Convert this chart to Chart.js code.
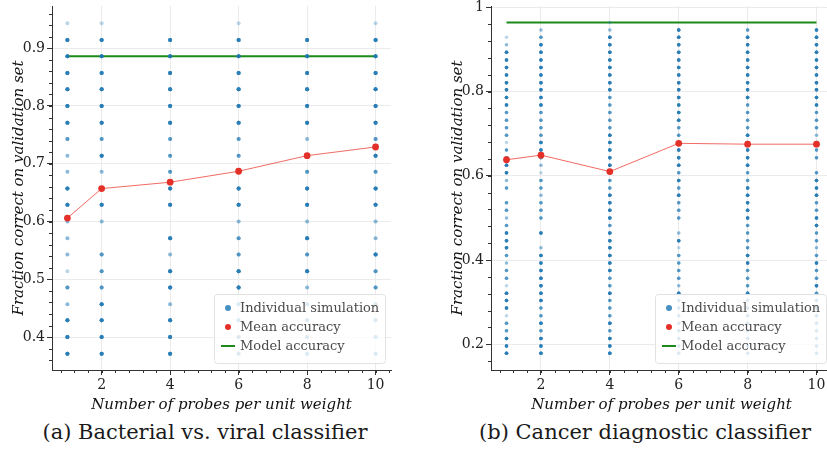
<!DOCTYPE html>
<html>
<head>
<meta charset="utf-8">
<script src="https://cdn.jsdelivr.net/npm/chart.js@4.4.0/dist/chart.umd.min.js"></script>
<style>
    html, body { margin: 0; padding: 0; background: #fff; width: 827px; height: 457px; overflow: hidden; }
    .panel { position: absolute; top: 0; }
    .caption {
        position: absolute; top: 421px; line-height: 22px;
        font-family: 'DejaVu Serif', serif; font-size: 21px; color: #1a1a1a;
        white-space: nowrap; transform: translateX(-50%);
    }
</style>
</head>
<body>
<canvas id="chartA" class="panel" width="400" height="420" style="left:0"></canvas>
<canvas id="chartB" class="panel" width="402" height="420" style="left:439px"></canvas>
<div class="caption" style="left:205px">(a) Bacterial vs. viral classifier</div>
<div class="caption" style="left:645px">(b) Cancer diagnostic classifier</div>

<script>
// =========================================================
// DATOS
// =========================================================
const probes = [1, 2, 4, 6, 8, 10];
const xTicks = [2, 4, 6, 8, 10];

// (a) bacterial vs. viral: niveles posibles de acierto (de abajo a arriba)
const bvLevels = [0.371, 0.400, 0.429, 0.457, 0.486, 0.514, 0.543, 0.571, 0.600, 0.629, 0.657,
                  0.686, 0.714, 0.743, 0.771, 0.800, 0.829, 0.857, 0.886, 0.914, 0.943];
// simulaciones que caen en cada nivel, una fila por columna de probes
const bvCounts = [
    [8,8,8,2,4,1,2,2,2,8,8,2,2,4,8,8,8,8,8,8,1],
    [8,8,8,8,4,4,4,0,2,8,8,2,8,4,8,8,8,8,8,8,1],
    [8,8,8,2,8,8,2,8,0,8,8,4,4,4,8,8,8,8,8,8,0],
    [4,4,4,4,8,8,4,4,2,8,8,4,4,4,8,8,8,8,8,8,1],
    [4,4,4,4,2,8,4,8,2,8,8,4,8,2,8,8,8,8,8,8,0],
    [4,4,4,4,4,4,8,2,2,8,8,4,8,4,8,8,8,8,8,8,1],
];
const bvMean  = [0.606, 0.657, 0.668, 0.687, 0.714, 0.729];
const bvModel = 0.886;
const bvYTicks = [0.4, 0.5, 0.6, 0.7, 0.8, 0.9];

// (b) cancer diagnostic
const cdLevels = [0.179, 0.196, 0.214, 0.232, 0.250, 0.268, 0.286, 0.304, 0.321, 0.339,
                  0.357, 0.375, 0.393, 0.411, 0.429, 0.446, 0.464, 0.482, 0.500, 0.518,
                  0.536, 0.554, 0.571, 0.589, 0.607, 0.625, 0.643, 0.661, 0.679, 0.696,
                  0.714, 0.732, 0.750, 0.768, 0.786, 0.804, 0.821, 0.839, 0.857, 0.875,
                  0.893, 0.911, 0.929, 0.946, 0.964];
const cdCounts = [
    [8,8,8,4,4,1,8,8,8,1, 4,4,2,4,8,8,8,4,2,4, 4,0,4,2,8,8,4,4,1,4, 4,4,4,8,8,8,8,8,8,8, 8,2,1,0,0],
    [8,8,8,4,8,4,4,8,8,8, 8,8,8,8,2,0,8,0,4,4, 4,2,4,4,1,2,4,8,8,4, 4,4,4,8,8,8,8,8,8,8, 8,8,4,2,0],
    [8,8,8,4,8,4,4,4,8,4, 4,8,8,8,8,8,8,4,8,8, 8,8,4,4,4,8,8,8,8,8, 4,4,4,4,4,8,8,8,8,8, 8,8,8,2,1],
    [4,4,4,4,4,4,4,4,8,2, 4,4,4,4,1,8,2,0,4,4, 4,8,4,8,4,8,8,8,4,4, 4,8,8,8,8,8,8,8,8,8, 8,8,8,8,0],
    [4,4,4,4,4,4,4,4,8,4, 4,4,8,8,4,4,4,4,8,8, 8,8,8,4,4,8,8,8,4,8, 4,4,4,4,8,8,8,8,8,8, 8,8,8,4,0],
    [4,4,4,4,4,4,4,4,4,8, 4,4,8,4,2,4,4,8,8,4, 4,8,8,8,4,0,4,4,4,2, 4,4,4,8,8,8,8,8,8,8, 8,8,8,8,0],
];
const cdMean  = [0.638, 0.649, 0.610, 0.677, 0.675, 0.675];
const cdModel = 0.964;
const cdYTicks = [0.2, 0.4, 0.6, 0.8, 1];

const legendOrder = ['Individual simulation', 'Mean accuracy', 'Model accuracy'];

// =========================================================
// PLUGINS
// =========================================================
const minorTicks = {
    id: 'minorTicks',
    afterDraw(chart, args, opts) {
        const { ctx } = chart;
        const xs = chart.scales.x, ys = chart.scales.y;
        ctx.save();
        ctx.strokeStyle = '#333';
        ctx.lineWidth = 1;
        ctx.beginPath();
        for (let i = Math.ceil(xs.min / opts.x); i * opts.x <= xs.max; i++) {
            const px = Math.round(xs.getPixelForValue(i * opts.x)) + 0.5;
            ctx.moveTo(px, xs.top); ctx.lineTo(px, xs.top + 3);
        }
        for (let i = Math.ceil(ys.min / opts.y); i * opts.y <= ys.max; i++) {
            const py = Math.round(ys.getPixelForValue(i * opts.y)) + 0.5;
            ctx.moveTo(ys.right, py); ctx.lineTo(ys.right - 3, py);
        }
        ctx.stroke();
        ctx.restore();
    }
};

const insetLegend = {
    id: 'insetLegend',
    afterDatasetsDraw(chart) {
        const { ctx, chartArea: a } = chart;
        const w = 171, h = 69;
        const left = a.right - 6 - w, top = a.bottom - 7 - h;
        ctx.save();
        ctx.beginPath();
        if (ctx.roundRect) ctx.roundRect(left + 0.5, top + 0.5, w, h, 3);
        else ctx.rect(left + 0.5, top + 0.5, w, h);
        ctx.fillStyle = 'rgba(255,255,255,0.8)';
        ctx.fill();
        ctx.strokeStyle = '#e2e2e2';
        ctx.lineWidth = 1;
        ctx.stroke();

        ctx.font = '13px "DejaVu Serif"';
        ctx.textBaseline = 'middle';
        legendOrder.forEach((label, i) => {
            const ds = chart.data.datasets.find(d => d.label === label);
            const cy = top + 14 + i * 19;
            if (ds.pointRadius === 0) {
                ctx.strokeStyle = ds.borderColor;
                ctx.lineWidth = ds.borderWidth;
                ctx.beginPath();
                ctx.moveTo(left + 7, cy); ctx.lineTo(left + 21, cy);
                ctx.stroke();
            } else {
                ctx.fillStyle = ds.legendColor;
                ctx.beginPath();
                ctx.arc(left + 14, cy, 3, 0, Math.PI * 2);
                ctx.fill();
            }
            ctx.fillStyle = '#4a4a4a';
            ctx.fillText(label, left + 26, cy + 1);
        });
        ctx.restore();
    }
};

// =========================================================
// GRAFICOS
// =========================================================
function simPoints(levels, counts) {
    const pts = [];
    probes.forEach((p, c) => {
        counts[c].forEach((n, i) => {
            for (let r = 0; r < n; r++) pts.push({ x: p, y: levels[i] });
        });
    });
    return pts;
}

function renderPanel(id, cfg) {
    const tickFont = { family: 'DejaVu Serif', size: 14 };
    const titleFont = { family: 'DejaVu Serif', size: 15, style: 'italic' };
    return new Chart(document.getElementById(id), {
        type: 'scatter',
        data: {
            datasets: [
                {
                    label: 'Model accuracy', type: 'line',
                    data: [{ x: probes[0], y: cfg.model }, { x: probes[probes.length - 1], y: cfg.model }],
                    borderColor: '#1b8a1b', borderWidth: 2, pointRadius: 0, order: 3
                },
                {
                    label: 'Individual simulation',
                    data: simPoints(cfg.levels, cfg.counts),
                    pointRadius: cfg.dotR, pointBorderWidth: 0,
                    backgroundColor: 'rgba(31,119,180,0.3)', legendColor: 'rgba(31,119,180,0.82)',
                    order: 2
                },
                {
                    label: 'Mean accuracy', type: 'line',
                    data: probes.map((p, i) => ({ x: p, y: cfg.mean[i] })),
                    borderColor: 'rgba(236,70,60,0.8)', borderWidth: 1,
                    pointRadius: 3.4, pointBorderWidth: 0, pointBackgroundColor: '#e3312a',
                    legendColor: '#e3312a', order: 1
                }
            ]
        },
        options: {
            responsive: false,
            animation: false,
            layout: { padding: { top: 6, right: 9, left: 0, bottom: 0 } },
            plugins: {
                legend: { display: false },
                tooltip: { enabled: false },
                minorTicks: { x: 0.4, y: cfg.minorY }
            },
            scales: {
                x: {
                    type: 'linear', min: 0.55, max: 10.45,
                    afterBuildTicks: s => { s.ticks = xTicks.map(v => ({ value: v })); },
                    afterFit: s => { s.height = 50; s.paddingLeft = 0; s.paddingRight = 0; },
                    grid: { color: '#ebebeb', tickColor: '#333', tickLength: 5 },
                    border: { color: '#333', width: 1 },
                    ticks: { font: tickFont, color: '#222', padding: 2, maxRotation: 0, callback: v => String(v) },
                    title: { display: true, text: 'Number of probes per unit weight', font: titleFont, color: '#111', padding: { top: 0, bottom: 6 } }
                },
                y: {
                    type: 'linear', min: cfg.yMin, max: cfg.yMax,
                    afterBuildTicks: s => { s.ticks = cfg.yTicks.map(v => ({ value: v })); },
                    afterFit: s => { s.width = 52; s.paddingTop = 0; s.paddingBottom = 0; },
                    grid: { color: '#ebebeb', tickColor: '#333', tickLength: 5 },
                    border: { color: '#333', width: 1 },
                    ticks: { font: tickFont, color: '#222', padding: 2, callback: v => String(v) },
                    title: { display: true, text: 'Fraction correct on validation set', font: titleFont, color: '#111', padding: { top: 10, bottom: 0 } }
                }
            }
        },
        plugins: [minorTicks, insetLegend]
    });
}

renderPanel('chartA', {
    levels: bvLevels, counts: bvCounts, mean: bvMean, model: bvModel,
    yTicks: bvYTicks, yMin: 0.343, yMax: 0.973, minorY: 0.02, dotR: 2
});
renderPanel('chartB', {
    levels: cdLevels, counts: cdCounts, mean: cdMean, model: cdModel,
    yTicks: cdYTicks, yMin: 0.139, yMax: 1.003, minorY: 0.04, dotR: 1.75
});
</script>
</body>
</html>
